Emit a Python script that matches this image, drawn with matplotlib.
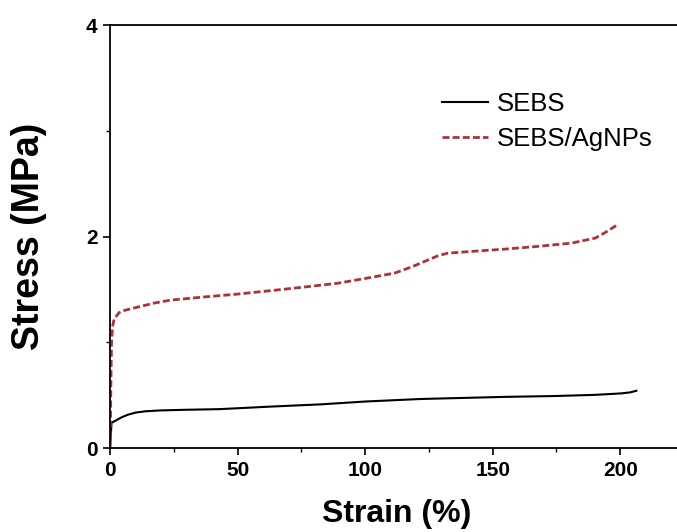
import matplotlib
matplotlib.use("Agg")
import matplotlib.pyplot as plt
from matplotlib.ticker import MultipleLocator

plt.rcParams["font.family"] = ["Liberation Sans", "DejaVu Sans"]

# values
sebs_strain = [0.0, 0.3, 0.6, 1.5, 3.0, 4.5, 7.0, 10.0, 14.0, 20.0, 30.0, 43.0, 63.0, 82.5,
               100.0, 121.8, 140.0, 154.8, 174.2, 190.0, 200.4, 204.0, 206.3]
sebs_stress = [0.0, 0.12, 0.24, 0.25, 0.27, 0.29, 0.315, 0.335, 0.348, 0.356, 0.362, 0.368, 0.392, 0.413,
               0.44, 0.464, 0.475, 0.484, 0.492, 0.503, 0.517, 0.527, 0.542]

agnp_strain = [0.0, 0.2, 0.4, 0.6, 1.0, 1.6, 3.5, 6.0, 9.4, 17.3, 23.8, 36.9, 50.0, 63.1,
               76.2, 89.3, 102.4, 111.6, 118.1, 123.4, 128.6, 132.5, 141.7, 154.8, 167.9,
               181.0, 190.2, 194.1, 198.7]
agnp_stress = [0.0, 0.3, 0.7, 1.0, 1.15, 1.22, 1.28, 1.305, 1.325, 1.372, 1.40, 1.43, 1.457, 1.49,
               1.524, 1.56, 1.615, 1.656, 1.713, 1.767, 1.82, 1.845, 1.861, 1.883, 1.909,
               1.94, 1.987, 2.04, 2.11]

x_ticks = [0, 50, 100, 150, 200]
y_ticks = [0, 2, 4]

fig = plt.figure(figsize=(6.77, 5.32), dpi=100)
ax = fig.add_axes([110 / 677, 84 / 532, 574 / 677, 422.5 / 532])

ax.plot(sebs_strain, sebs_stress, color="black", lw=1.5, label="SEBS")
ax.plot(agnp_strain, agnp_stress, color="#B0303A", lw=2.0, ls=(0, (2.5, 1.15)),
        label="SEBS/AgNPs")

ax.set_xlim(0, 225)
ax.set_ylim(0, 4)
ax.set_xticks(x_ticks)
ax.set_yticks(y_ticks)
ax.xaxis.set_minor_locator(MultipleLocator(25))
ax.yaxis.set_minor_locator(MultipleLocator(1))
ax.tick_params(which="major", direction="out", length=5, width=1.2, labelsize=15, pad=4)
ax.tick_params(which="minor", direction="out", length=3, width=1.0)
for lab in ax.get_xticklabels() + ax.get_yticklabels():
    lab.set_fontweight("bold")
for s in ax.spines.values():
    s.set_linewidth(1.3)

ax.set_xlabel("Strain (%)", fontsize=23, fontweight="bold", labelpad=14)
ax.set_ylabel("Stress (MPa)", fontsize=27, fontweight="bold", labelpad=28)

ax.legend(loc="upper left", bbox_to_anchor=(0.560, 0.866), frameon=False, fontsize=18.5,
          handlelength=1.8, handletextpad=0.35, labelspacing=0.42, borderaxespad=0)

fig.savefig("out.png", dpi=100)
